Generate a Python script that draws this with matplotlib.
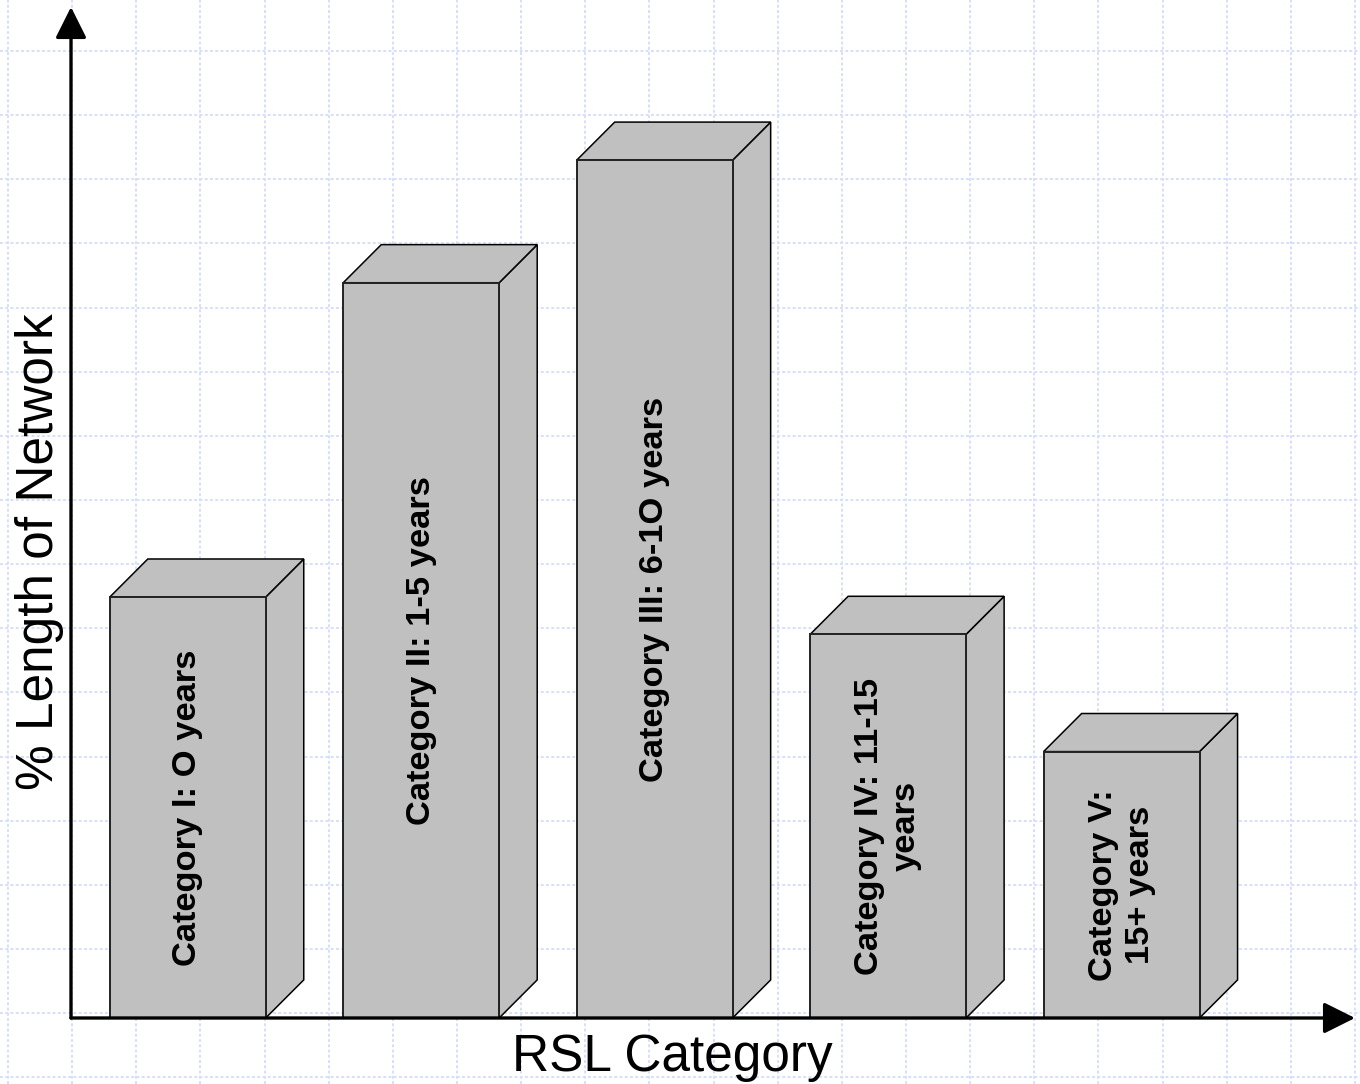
import matplotlib
matplotlib.use('Agg')
import matplotlib.pyplot as plt
from matplotlib.patches import Polygon
import numpy as np

# share of network length per remaining-service-life category (%)
categories = ['Category I: O years',
              'Category II: 1-5 years',
              'Category III: 6-1O years',
              'Category IV: 11-15\nyears',
              'Category V:\n15+ years']
values = [15.8, 27.6, 32.2, 14.4, 10.0]

plt.rcParams['font.family'] = ['Liberation Sans', 'DejaVu Sans']

W, H = 1360, 1084
fig = plt.figure(figsize=(W / 100, H / 100), dpi=100)

# graph-paper background, in pixel units
bg = fig.add_axes([0, 0, 1, 1])
bg.set_xlim(0, W)
bg.set_ylim(H, 0)
bg.axis('off')
step = 64.14
for gx in np.arange(8, W, step):
    bg.axvline(gx, color='#d5e0fa', lw=1.4, ls=(0, (1.5, 1.2)))
for gy in np.arange(51, H, step):
    bg.axhline(gy, color='#d5e0fa', lw=1.4, ls=(0, (1.5, 1.2)))

# main chart area
ax = fig.add_axes([71 / W, 66 / H, 1284 / W, 1011 / H])
ax.patch.set_alpha(0)
ax.set_xlim(-0.5, 5.0)
ax.set_ylim(0, 37.95)
for s in ax.spines.values():
    s.set_visible(False)
ax.set_xticks([])
ax.set_yticks([])

x = np.arange(len(values))
width = 0.668
# 3D depth offsets in data units
ddx, ddy = 0.163, 1.43
face = '#c0c0c0'

for xi, v in zip(x, values):
    right = xi + width / 2
    left = xi - width / 2
    side = Polygon([(right, 0), (right + ddx, ddy), (right + ddx, v + ddy), (right, v)],
                   closed=True, facecolor=face, edgecolor='black', lw=1.1, zorder=2)
    top = Polygon([(left, v), (left + ddx, v + ddy), (right + ddx, v + ddy), (right, v)],
                  closed=True, facecolor=face, edgecolor='black', lw=1.1, zorder=2)
    ax.add_patch(side)
    ax.add_patch(top)

ax.bar(x, values, width=width, color=face, edgecolor='#222222', lw=1.4, zorder=3)

for xi, v, lab in zip(x, values, categories):
    ax.text(xi, v / 2, lab, rotation=90, ha='center', va='center',
            fontsize=24.8, fontweight='bold', linespacing=1.25, zorder=4)

# axis arrows
arrow = dict(arrowstyle='-|>,head_length=0.4,head_width=0.2', lw=2.4, color='black',
             mutation_scale=48, shrinkA=0, shrinkB=0)
ax.annotate('', xy=(0, 1), xytext=(0, 0), xycoords='axes fraction', arrowprops=arrow, zorder=5)
ax.annotate('', xy=(1, 0), xytext=(0, 0), xycoords='axes fraction', arrowprops=arrow, zorder=5)

fig.text(40 / W, 1 - 552 / H, '% Length of Network', rotation=90, ha='center', va='center',
         fontsize=37)
fig.text(672 / W, 1 - 1057 / H, 'RSL Category', ha='center', va='center', fontsize=37)

fig.savefig('out.png', dpi=100)
